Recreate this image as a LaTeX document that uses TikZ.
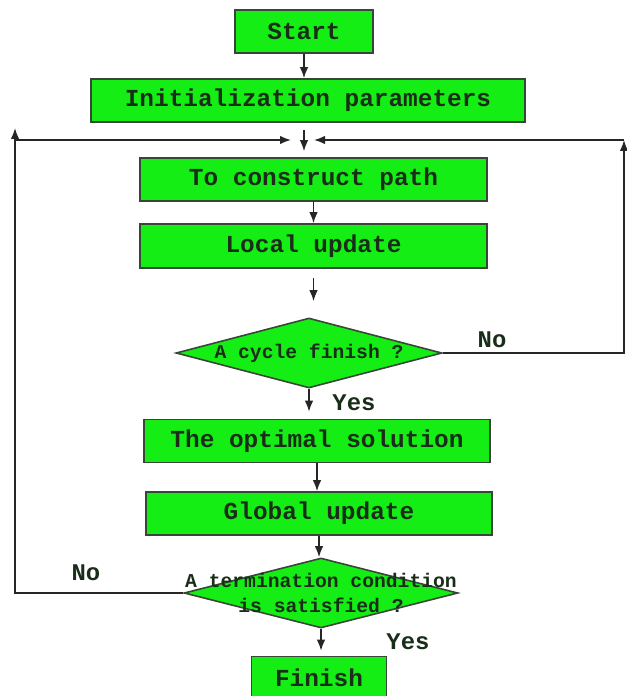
\documentclass[tikz,border=0pt]{standalone}
\usepackage{fontspec}
\setmonofont{Liberation Mono}
\usepackage{tikz}
\usetikzlibrary{shapes.geometric, arrows.meta, positioning}
\definecolor{boxgreen}{RGB}{20, 238, 20}
\definecolor{edgegray}{RGB}{55, 70, 55}
\definecolor{textdark}{RGB}{25, 45, 25}

\begin{document}
\begin{tikzpicture}[
    x=0.02cm, y=-0.02cm,
    box/.style={rectangle, draw=edgegray, fill=boxgreen, line width=0.9pt, minimum height=0.86cm, inner sep=0pt, font=\ttfamily\bfseries\fontsize{13.9}{16}\selectfont, text=textdark},
    decision/.style={diamond, draw=edgegray, fill=boxgreen, line width=0.9pt, minimum height=1.4cm, inner sep=0pt},
    dtext/.style={font=\ttfamily\bfseries\fontsize{11.2}{14.2}\selectfont, text=textdark, align=center},
    answer/.style={font=\ttfamily\bfseries\fontsize{13.6}{16}\selectfont, text=textdark},
    arrow/.style={-{Latex[length=0.22cm, width=0.17cm]}, line width=0.9pt, black!85}
]
\useasboundingbox (0,0) rectangle (626,696);

% Steps
\node[box, minimum width=2.76cm] (start) at (304,31.5) {Start};
\node[box, minimum width=8.68cm] (init) at (308,100.5) {Initialization parameters};
\node[box, minimum width=6.94cm] (cons) at (313.5,179.5) {To construct path};
\node[box, minimum width=6.94cm, minimum height=0.88cm] (local) at (313.5,246) {Local update};
\node[decision, minimum width=5.32cm] (cycle) at (309,353) {};
\node[dtext] (cycletext) at (cycle) {A cycle finish ?};
\node[box, minimum width=6.92cm] (opt) at (317,441) {The optimal solution};
\node[box, minimum width=6.92cm] (glob) at (319,513.5) {Global update};
\node[decision, minimum width=5.48cm] (term) at (321,593) {};
\node[dtext] (termtext) at (term) {A termination condition\\is satisfied ?};
\node[box, minimum width=2.70cm] (fin) at (319,678) {Finish};

% Loop corners
\coordinate (ltop) at (15,140);
\coordinate (lup) at (15,128);
\coordinate (rtop) at (624,140);
\coordinate (mergeL) at (291,140);
\coordinate (mergeR) at (314,140);
\coordinate (mergeT) at (304,130);

% Arrows
\draw[arrow] (start) -- (start |- init.north);
\draw[arrow] (mergeT) -- ([yshift=0.12cm]mergeT |- cons.north);
\draw[arrow] (cons) -- (cons |- local.north);
\draw[arrow, shorten <=0.18cm, shorten >=0.32cm] (local) -- (local |- cycle.north);
\draw[arrow, shorten >=0.14cm] (cycle) -- (cycle |- opt.north);
\draw[arrow] (opt) -- (opt |- glob.north);
\draw[arrow] (glob) -- (glob |- term.north);
\draw[arrow, shorten >=0.1cm] (term) -- (term |- fin.north);

% Loops back
\draw[arrow] (cycle.east) -| (rtop);
\draw[arrow] (rtop) -- (mergeR);
\draw[arrow] (term.west) -| (lup);
\draw[arrow] (ltop) -- (mergeL);

% Answers
\node[answer] (noR) at (492,340) {No};
\node[answer] (yesA) at (354,403) {Yes};
\node[answer] (noL) at (86,573) {No};
\node[answer] (yesB) at (408,642) {Yes};
\end{tikzpicture}
\end{document}
